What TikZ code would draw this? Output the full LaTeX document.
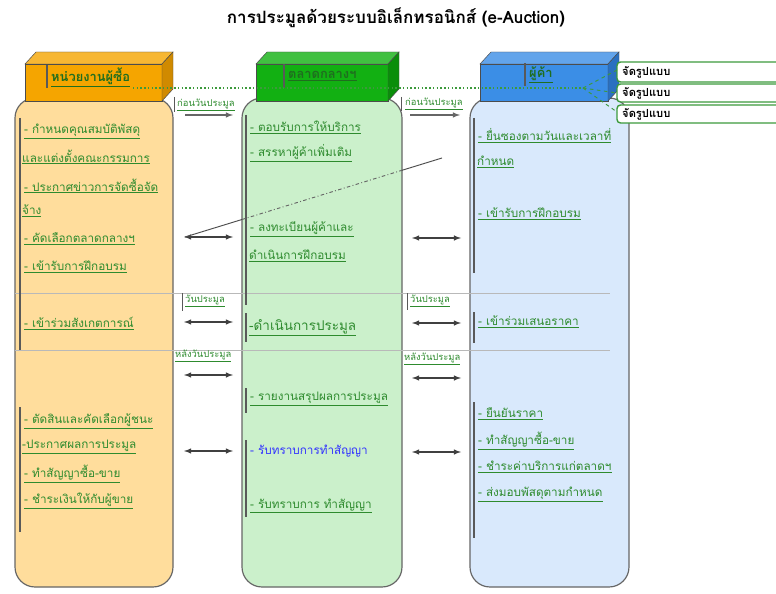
\documentclass[tikz,border=0pt]{standalone}
\usepackage{fontspec}
\setmainfont{Loma}[Script=Thai]
\usetikzlibrary{arrows, calc}

\definecolor{txtgreen}{HTML}{2E8B2E}
\definecolor{hdrgreen}{HTML}{1F6E1F}
\definecolor{calgreen}{HTML}{3C9A3C}
\definecolor{orfront}{HTML}{F5A500}
\definecolor{orside}{HTML}{D08A00}
\definecolor{orbody}{HTML}{FFDD9C}
\definecolor{grfront}{HTML}{12B012}
\definecolor{grside}{HTML}{0A8E0A}
\definecolor{grbody}{HTML}{CBF0CB}
\definecolor{blfront}{HTML}{3B8EE6}
\definecolor{blside}{HTML}{2A70C0}
\definecolor{blbody}{HTML}{D9E9FC}

\newcommand{\tul}[1]{\underline{#1}}
% box with top and side face: x1, ytop, x2, ybottom, front, side
\newcommand{\cube}[6]{%
	\fill[#5, draw=black!70]	(#1,#2) rectangle (#3,#4);
	\fill[#5!80!white, draw=black!70]	(#1,#2) -- ++(11,-12) -- (#3+11,#2-12) -- (#3,#2) -- cycle;
	\fill[#6, draw=black!70]	(#3,#2) -- ++(11,-12) -- (#3+11,#4-12) -- (#3,#4) -- cycle;
}

\tikzset{
	item/.style={anchor=west, inner sep=0pt, text=txtgreen, font=\fontsize{10}{11}\selectfont},
	lbl/.style={anchor=west, inner sep=0pt, text=txtgreen, font=\fontsize{8}{9}\selectfont},
	hdr/.style={anchor=west, inner sep=0pt, text=hdrgreen, font=\fontsize{11}{12}\selectfont\bfseries},
	bar/.style={draw=gray!70!black, line width=1.2pt},
	sep/.style={draw=gray!55, line width=0.5pt},
	dbl/.style={latex-latex, line width=1.1pt, draw=black!75},
	fwd/.style={-latex, line width=1.1pt, draw=black!60},
	callout/.style={draw=calgreen, line width=1.2pt, fill=white, rounded corners=3pt},
	calltext/.style={anchor=west, inner sep=0pt, font=\fontsize{9.5}{10}\selectfont\bfseries},
	body/.style={draw=gray!80!black, line width=1pt, rounded corners=0.6cm},
}

\begin{document}
\begin{tikzpicture}[x=0.03cm, y=-0.03cm]
	\def\Ytop{98}
	\def\Ybot{587}
	\def\Hy{64}
	\def\Hb{101}

	\clip (0,0) rectangle (776,594);
	\fill[white] (0,0) rectangle (776,594);

	\node[font=\fontsize{14.5}{16}\selectfont\bfseries] (title) at (396,18) {การประมูลด้วยระบบอิเล็กทรอนิกส์ (e-Auction)};

	% column bodies
	\draw[body, fill=orbody]	(15,\Ytop) rectangle (173,\Ybot);
	\draw[body, fill=grbody]	(242,\Ytop) rectangle (402,\Ybot);
	\draw[body, fill=blbody]	(470,\Ytop) rectangle (629,\Ybot);

	% headers
	\cube{25}{\Hy}{162}{\Hb}{orfront}{orside}
	\cube{256}{\Hy}{388}{\Hb}{grfront}{grside}
	\cube{480}{\Hy}{608}{\Hb}{blfront}{blside}

	\draw[bar, line width=1pt]	(47,65) -- (47,88);
	\draw[bar, line width=1pt]	(284,64) -- (284,88);
	\draw[bar, line width=1pt]	(525,63) -- (525,86);
	\node[hdr] (hbuy) at (51,77) {\tul{หน่วยงานผู้ซื้อ}};
	\node[hdr] (hmkt) at (288,76) {\tul{ตลาดกลางฯ}};
	\node[hdr] (hsel) at (529,75) {\tul{ผู้ค้า}};

	% separators
	\draw[sep]	(15,293) -- (610,293);
	\draw[sep]	(15,350) -- (610,350);

	% text bars
	\draw[bar]	(20,118) -- (20,350);
	\draw[bar]	(20,407) -- (20,532);
	\draw[bar]	(246,115) -- (246,305);
	\draw[bar]	(246,313) -- (246,342);
	\draw[bar]	(246,388) -- (246,413);
	\draw[bar]	(246,440) -- (246,517);
	\draw[bar]	(474,118) -- (474,273);
	\draw[bar]	(474,312) -- (474,343);
	\draw[bar]	(474,402) -- (474,538);

	% buyer
	\node[item] (b1) at (24,131) {\tul{- กำหนดคุณสมบัติพัสดุ}};
	\node[item] (b2) at (22,157) {\tul{และแต่งตั้งคณะกรรมการ}};
	\node[item] (b3) at (24,186) {\tul{- ประกาศข่าวการจัดซื้อจัด}};
	\node[item] (b4) at (22,211) {\tul{จ้าง}};
	\node[item] (b5) at (24,239) {\tul{- คัดเลือกตลาดกลางฯ}};
	\node[item] (b6) at (24,267) {\tul{- เข้ารับการฝึกอบรม}};
	\node[item] (b7) at (24,324) {\tul{- เข้าร่วมสังเกตการณ์}};
	\node[item] (b8) at (24,421) {\tul{- ตัดสินและคัดเลือกผู้ชนะ}};
	\node[item] (b9) at (22,447) {\tul{-ประกาศผลการประมูล}};
	\node[item] (b10) at (24,474) {\tul{- ทำสัญญาซื้อ-ขาย}};
	\node[item] (b11) at (24,501) {\tul{- ชำระเงินให้กับผู้ขาย}};

	% market
	\node[item] (m1) at (250,127) {\tul{- ตอบรับการให้บริการ}};
	\node[item] (m2) at (250,153) {\tul{- สรรหาผู้ค้าเพิ่มเติม}};
	\node[item] (m3) at (250,229) {\tul{- ลงทะเบียนผู้ค้าและ}};
	\node[item] (m4) at (249,256) {\tul{ดำเนินการฝึกอบรม}};
	\node[item, font=\fontsize{11.5}{13}\selectfont] (m5) at (249,328) {\tul{-ดำเนินการประมูล}};
	\node[item] (m6) at (250,399) {\tul{- รายงานสรุปผลการประมูล}};
	\node[item, text=blue!80!white] (m7) at (250,451) {- รับทราบการทำสัญญา};
	\node[item] (m8) at (250,506) {\tul{- รับทราบการ ทำสัญญา}};

	% seller
	\node[item] (s1) at (478,136) {\tul{- ยื่นซองตามวันและเวลาที่}};
	\node[item] (s2) at (477,162) {\tul{กำหนด}};
	\node[item] (s3) at (478,214) {\tul{- เข้ารับการฝึกอบรม}};
	\node[item] (s4) at (478,322) {\tul{- เข้าร่วมเสนอราคา}};
	\node[item] (s5) at (478,414) {\tul{- ยืนยันราคา}};
	\node[item] (s6) at (478,441) {\tul{- ทำสัญญาซื้อ-ขาย}};
	\node[item] (s7) at (478,467) {\tul{- ชำระค่าบริการแก่ตลาดฯ}};
	\node[item] (s8) at (478,494) {\tul{- ส่งมอบพัสดุตามกำหนด}};

	% period labels
	\draw[bar, line width=0.8pt]	(174,97) -- (174,112);
	\draw[bar, line width=0.8pt]	(182,293) -- (182,311);
	\draw[bar, line width=0.8pt]	(401,97) -- (401,111);
	\draw[bar, line width=0.8pt]	(407,293) -- (407,310);
	\node[lbl] (p1) at (177,105) {\tul{ก่อนวันประมูล}};
	\node[lbl] (p2) at (185,301) {\tul{วันประมูล}};
	\node[lbl] (p3) at (175,356) {\tul{หลังวันประมูล}};
	\node[lbl] (q1) at (405,104) {\tul{ก่อนวันประมูล}};
	\node[lbl] (q2) at (410,301) {\tul{วันประมูล}};
	\node[lbl] (q3) at (404,359) {\tul{หลังวันประมูล}};

	% arrows
	\coordinate (fa) at (185,115);	\coordinate (fb) at (233,115);
	\coordinate (ga) at (410,115);	\coordinate (gb) at (460,115);
	\draw[fwd]	(fa) -- (fb);
	\draw[fwd]	(ga) -- (gb);
	\foreach \n/\y in {1/237,2/322,3/375,4/451}{
		\coordinate (la\n) at (184,\y);	\coordinate (lb\n) at (233,\y);
		\draw[dbl]	(la\n) -- (lb\n);
	}
	\foreach \n/\y in {1/238,2/323,3/378,4/452}{
		\coordinate (ra\n) at (412,\y);	\coordinate (rb\n) at (461,\y);
		\draw[dbl]	(ra\n) -- (rb\n);
	}

	% slanted line
	\coordinate (dA) at (185,237);
	\coordinate (dB) at (442,158);
	\draw[black!70, line width=0.8pt]	(dA) -- ($(dA)!0.222!(dB)$);
	\draw[black!60, line width=0.8pt, dash dot]	($(dA)!0.222!(dB)$) -- ($(dA)!0.844!(dB)$);
	\draw[black!70, line width=0.8pt]	($(dA)!0.844!(dB)$) -- (dB);

	% dotted link and callouts
	\coordinate (dot0) at (133,88);
	\coordinate (dot1) at (583,88);
	\draw[calgreen, line width=1.2pt, dotted]	(dot0) -- (dot1);
	\draw[callout]	(617,62) rectangle (790,82);
	\draw[callout]	(617,84) rectangle (790,102);
	\draw[callout]	(617,105) rectangle (790,123);
	\coordinate (c1) at (617,70);
	\coordinate (c2) at (617,93);
	\coordinate (c3) at (617,112);
	\foreach \c in {c1,c2,c3}
		\draw[calgreen, line width=0.8pt, dashed]	(dot1) -- (\c);
	\node[calltext] (k1) at (622,72) {จัดรูปแบบ};
	\node[calltext] (k2) at (622,93) {จัดรูปแบบ};
	\node[calltext] (k3) at (622,114) {จัดรูปแบบ};
\end{tikzpicture}
\end{document}
